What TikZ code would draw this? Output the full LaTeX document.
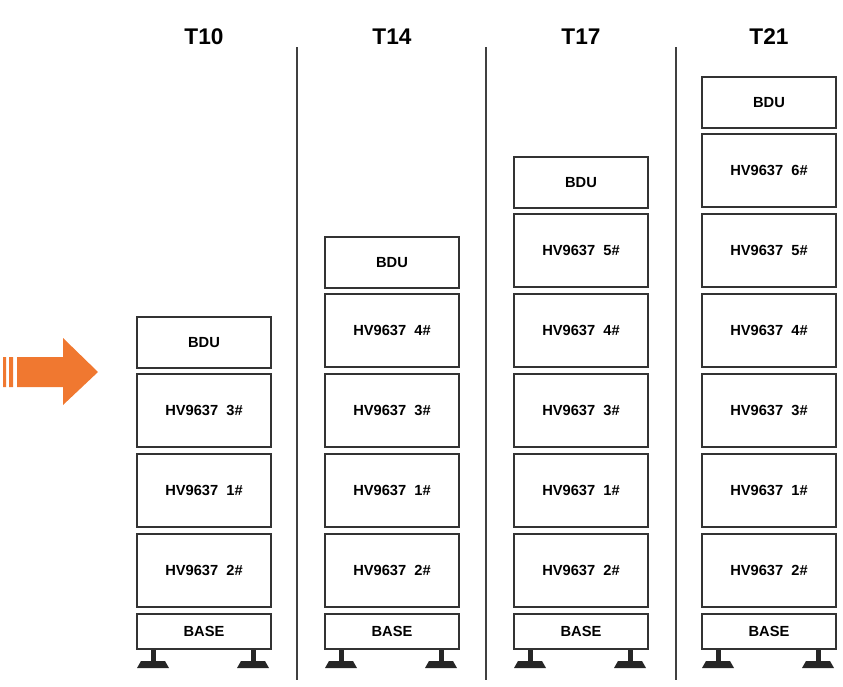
\documentclass[tikz,border=0pt]{standalone}
\usepackage{fontspec}
\setmainfont{Liberation Sans}
\usetikzlibrary{positioning}
\definecolor{arrowfill}{RGB}{240,120,48}
\tikzset{%
    unit/.style={%
        draw=black!80,%
        line width=1.5pt,%
        fill=white,%
        minimum width=100.5pt,%
        font=\bfseries\fontsize{11}{13}\selectfont,%
        inner sep=0pt%
    },%
    module/.style={unit, minimum height=54.5pt},%
    bdu/.style={unit, minimum height=38.5pt},%
    base/.style={unit, minimum height=26.5pt},%
    title/.style={font=\bfseries\fontsize{17}{20}\selectfont},%
    divider/.style={line width=1.4pt, draw=black!75}%
}

\begin{document}
\begin{tikzpicture}[x=0.75pt, y=-0.75pt]
    \useasboundingbox (0,0) rectangle (843,686);
    % columns: name / title / x centre / modules from bottom
    \foreach \col/\ttl/\cx/\mods in {a/T10/204/{2,1,3}, b/T14/392/{2,1,3,4},
                                c/T17/581/{2,1,3,4,5}, d/T21/769/{2,1,3,4,5,6}} {
        \node[title] (title-\col) at (\cx,37) {\ttl};
        \node[base] (base-\col) at (\cx,631.5) {BASE};
        \foreach \m [count=\i] in \mods {
            \node[module] (hv-\col-\i) at (\cx,{570.5-80*(\i-1)}) {HV9637\ \ \m\#};
            \xdef\lasty{\number\numexpr 533-80*(\i-1)\relax}
        }
        \node[bdu] (bdu-\col) at (\cx,\lasty-30.5) {BDU};
        % feet
        \foreach \dx in {-51,49} {
            \fill[black!85] (\cx+\dx-2.5,650) rectangle (\cx+\dx+2.5,662);
            \fill[black!85] (\cx+\dx-16,668) -- (\cx+\dx-12,661)
                -- (\cx+\dx+12,661) -- (\cx+\dx+16,668) -- cycle;
        }
    }
    % dividers
    \foreach \dx in {297,486,676}
        \draw[divider] (\dx,47) -- (\dx,680);
    % arrow
    \fill[arrowfill] (17,357) rectangle (63,387)
        (63,338) -- (98,372) -- (63,405) -- cycle;
    \fill[arrowfill] (3,357) rectangle (6,387)
        (9,357) rectangle (13,387);
\end{tikzpicture}
\end{document}
